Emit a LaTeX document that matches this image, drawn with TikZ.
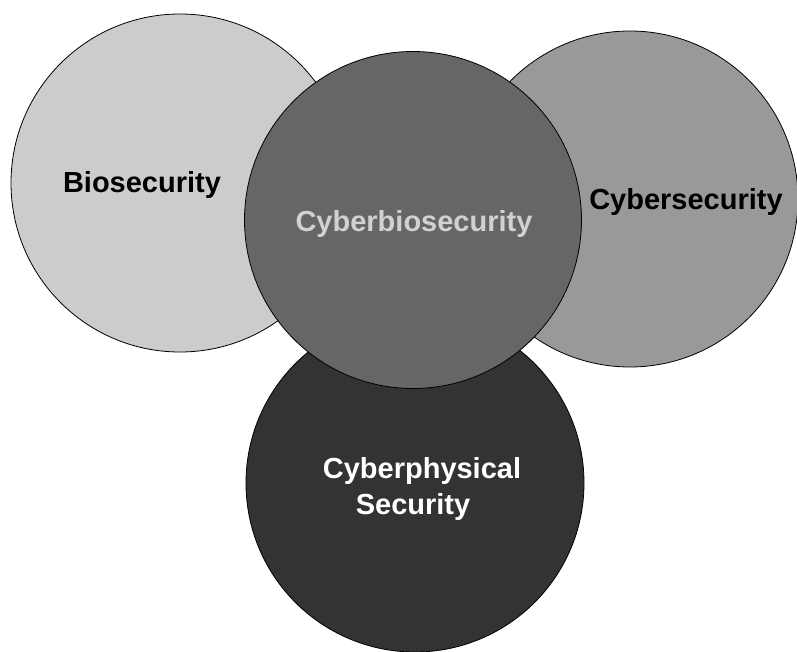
\documentclass[tikz,border=0pt]{standalone}
\usepackage{fontspec}
\setmainfont{Liberation Sans}
\begin{document}
\begin{tikzpicture}[x=1pt,y=-1pt,
  area/.style={circle, draw=black, line width=0.8pt, inner sep=0pt},
  caption/.style={anchor=base, inner sep=0pt, font=\fontsize{29}{36}\selectfont\bfseries, align=center}]
  \useasboundingbox (0,0) rectangle (797,652);
  % the four security domains
  \node[area, fill=black!20, minimum size=338pt] (bio) at (180,183) {};
  \node[area, fill=black!40, minimum size=336pt] (cyber) at (630,199) {};
  \node[area, fill=black!80, minimum size=338pt] (phys) at (415,483) {};
  \node[area, fill=black!60, minimum size=337pt] (cyberbio) at (413,220) {};
  % labels
  \node[caption, text=black] (biolbl) at (142,193) {Biosecurity};
  \node[caption, text=black] (cyberlbl) at (686,210) {Cybersecurity};
  \node[caption, text=black!18] (cyberbiolbl) at (414,232) {Cyberbiosecurity};
  \node[caption, text=white] (physlbl1) at (422,478) {Cyberphysical};
  \node[caption, text=white] (physlbl2) at (413,514) {Security};
\end{tikzpicture}
\end{document}
